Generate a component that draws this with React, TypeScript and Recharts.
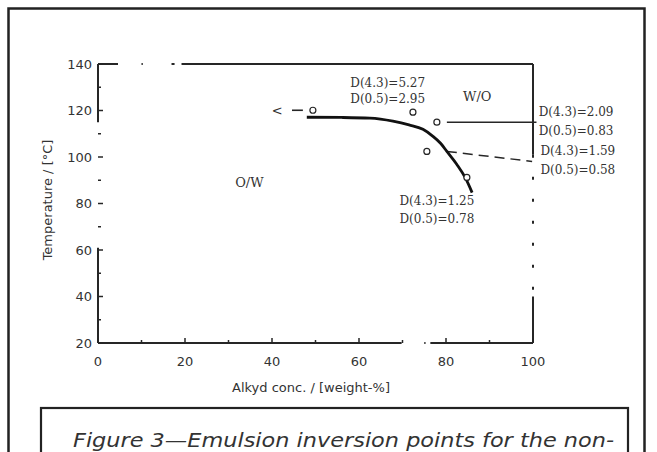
import React from 'react';
import { ComposedChart, Line, Scatter, XAxis, YAxis, ReferenceLine, ReferenceDot } from 'recharts';

// Inversion curve (alkyd conc. %, temperature °C)
const curveX = [48, 56, 62.5, 67.8, 71.5, 74.7, 77, 78.8, 80.2, 82.5, 84.4, 86];
const curveY = [117.1, 117.0, 116.7, 115.4, 113.8, 111.9, 108.9, 105.8, 102.4, 96.8, 91.2, 84.7];

// Measured inversion points
const pointX = [49.4, 72.4, 77.9, 75.6, 84.8];
const pointY = [120.1, 119.3, 115.0, 102.4, 91.2];

// Axis ticks
const xTicks = [0, 10, 20, 30, 40, 50, 60, 70, 80, 90, 100];
const xMajor = [0, 20, 40, 60, 80, 100];
const yTicks = [20, 30, 40, 50, 60, 70, 80, 90, 100, 110, 120, 130, 140];
const yMajor = [20, 40, 60, 80, 100, 120, 140];

// Annotation texts (anchored at data coordinates)
const noteText = [
  'D(4.3)=5.27', 'D(0.5)=2.95',
  'D(4.3)=2.09', 'D(0.5)=0.83',
  'D(4.3)=1.59', 'D(0.5)=0.58',
  'D(4.3)=1.25', 'D(0.5)=0.78',
];
const noteX = [58, 58, 101.3, 101.3, 101.7, 101.7, 69.3, 69.3];
const noteY = [131.8, 124.9, 119.3, 111.1, 102.4, 94.6, 80.9, 73.5];

const regionText = ['O/W', 'W/O', '<'];
const regionX = [34.8, 87.2, 41.2];
const regionY = [89.1, 126.2, 119.9];

const curveData = curveX.map((x, i) => ({ x, y: curveY[i] }));
const pointData = pointX.map((x, i) => ({ x, y: pointY[i] }));

const INK = '#262626';
const TICK_FONT = 'DejaVu Sans, sans-serif';
const NOTE_FONT = 'DejaVu Serif, serif';

const LeftTick = (props: any) => {
  const { x, y, payload } = props;
  const v = payload.value;
  const major = yMajor.includes(v);
  return (
    <g>
      <line x1={x} x2={x + (major ? 5 : 3)} y1={y} y2={y} stroke={INK} strokeWidth={1.5} />
      {major && (
        <text x={x - 6} y={y} textAnchor="end" dominantBaseline="central" fontFamily={TICK_FONT} fontSize={13} fill="#333">
          {v}
        </text>
      )}
    </g>
  );
};

const RightTick = (props: any) => {
  const { x, y, payload } = props;
  const major = yMajor.includes(payload.value);
  return <line x1={x} x2={x - (major ? 5 : 3)} y1={y} y2={y} stroke={INK} strokeWidth={1.5} />;
};

const BottomTick = (props: any) => {
  const { x, y, payload } = props;
  const v = payload.value;
  const major = xMajor.includes(v);
  return (
    <g>
      <line x1={x} x2={x} y1={y} y2={y - (major ? 5 : 3)} stroke={INK} strokeWidth={1.5} />
      {major && (
        <text x={x} y={y + 18} textAnchor="middle" dominantBaseline="central" fontFamily={TICK_FONT} fontSize={13} fill="#333">
          {v}
        </text>
      )}
    </g>
  );
};

const TopTick = (props: any) => {
  const { x, y, payload } = props;
  const major = xMajor.includes(payload.value);
  return <line x1={x} x2={x} y1={y} y2={y + (major ? 5 : 3)} stroke={INK} strokeWidth={1.5} />;
};

const frame = { stroke: INK, strokeWidth: 2, ifOverflow: 'visible' as const };

export default function App() {
  return (
    <div style={{ position: 'absolute', left: 0, top: 0, width: 657, height: 452, overflow: 'hidden', background: '#fff' }}>
      <ComposedChart width={657} height={452} margin={{ top: 64, right: 124, bottom: 79, left: 38 }}>
        <XAxis
          dataKey="x"
          type="number"
          domain={[0, 100]}
          ticks={xTicks}
          interval={0}
          height={30}
          tickSize={0}
          tickMargin={0}
          axisLine={false}
          tickLine={false}
          tick={<BottomTick />}
        />
        <XAxis
          xAxisId="t"
          orientation="top"
          type="number"
          domain={[0, 100]}
          ticks={xTicks}
          interval={0}
          height={0}
          tickSize={0}
          tickMargin={0}
          axisLine={false}
          tickLine={false}
          tick={<TopTick />}
        />
        <YAxis
          dataKey="y"
          type="number"
          domain={[20, 140]}
          ticks={yTicks}
          interval={0}
          width={60}
          tickSize={0}
          tickMargin={0}
          axisLine={false}
          tickLine={false}
          tick={<LeftTick />}
        />
        <YAxis
          yAxisId="r"
          orientation="right"
          type="number"
          domain={[20, 140]}
          ticks={yTicks}
          interval={0}
          width={0}
          tickSize={0}
          tickMargin={0}
          axisLine={false}
          tickLine={false}
          tick={<RightTick />}
        />

        {/* broken frame, as in the scanned original */}
        <ReferenceLine segment={[{ x: 0, y: 140 }, { x: 0, y: 115 }]} {...frame} />
        <ReferenceLine segment={[{ x: 0, y: 61 }, { x: 0, y: 20 }]} {...frame} />
        <ReferenceLine segment={[{ x: 0, y: 140 }, { x: 4.6, y: 140 }]} {...frame} />
        <ReferenceLine segment={[{ x: 10, y: 140 }, { x: 10.3, y: 140 }]} {...frame} />
        <ReferenceLine segment={[{ x: 16.9, y: 140 }, { x: 17.6, y: 140 }]} {...frame} />
        <ReferenceLine segment={[{ x: 19.2, y: 140 }, { x: 100, y: 140 }]} {...frame} />
        <ReferenceLine segment={[{ x: 100, y: 140 }, { x: 100, y: 101 }]} {...frame} />
        <ReferenceLine segment={[{ x: 100, y: 101 }, { x: 100, y: 40 }]} {...frame} strokeDasharray="3 19" />
        <ReferenceLine segment={[{ x: 100, y: 40 }, { x: 100, y: 20 }]} {...frame} />
        <ReferenceLine segment={[{ x: 0, y: 20 }, { x: 69.8, y: 20 }]} {...frame} />
        <ReferenceLine segment={[{ x: 75, y: 20 }, { x: 75.3, y: 20 }]} {...frame} />
        <ReferenceLine segment={[{ x: 76.4, y: 20 }, { x: 100, y: 20 }]} {...frame} />

        {/* leader lines */}
        <ReferenceLine segment={[{ x: 80.2, y: 115.0 }, { x: 100.8, y: 115.0 }]} stroke={INK} strokeWidth={1.5} ifOverflow="visible" />
        <ReferenceLine segment={[{ x: 80.2, y: 102.4 }, { x: 99.8, y: 98.1 }]} stroke={INK} strokeWidth={1.5} strokeDasharray="10 6" ifOverflow="visible" />
        <ReferenceLine segment={[{ x: 44.6, y: 120.1 }, { x: 47.1, y: 120.1 }]} stroke={INK} strokeWidth={1.6} ifOverflow="visible" />

        <Line
          data={curveData}
          dataKey="y"
          type="monotone"
          dot={false}
          stroke="#111"
          strokeWidth={2.8}
          isAnimationActive={false}
        />
        <Scatter
          data={pointData}
          dataKey="y"
          isAnimationActive={false}
          shape={(p: any) => <circle cx={p.cx} cy={p.cy} r={3} fill="#fff" stroke={INK} strokeWidth={1.2} />}
        />

        {noteText.map((t, i) => (
          <ReferenceDot
            key={'n' + i}
            x={noteX[i]}
            y={noteY[i]}
            r={0}
            ifOverflow="visible"
            shape={(p: any) => (
              <text x={p.cx} y={p.cy} dominantBaseline="central" fontFamily={NOTE_FONT} fontSize={12} fill="#333">
                {t}
              </text>
            )}
          />
        ))}
        {regionText.map((t, i) => (
          <ReferenceDot
            key={'r' + i}
            x={regionX[i]}
            y={regionY[i]}
            r={0}
            ifOverflow="visible"
            shape={(p: any) => (
              <text x={p.cx} y={p.cy} textAnchor="middle" dominantBaseline="central" fontFamily={NOTE_FONT} fontSize={13} fill="#333">
                {t}
              </text>
            )}
          />
        ))}
      </ComposedChart>

      <svg width={657} height={452} style={{ position: 'absolute', left: 0, top: 0, pointerEvents: 'none' }}>
        <rect x={8.5} y={8.5} width={636} height={470} fill="none" stroke="#222" strokeWidth={2.5} />
        <text
          transform="translate(47,200) rotate(-90)"
          textAnchor="middle"
          dominantBaseline="central"
          fontFamily={TICK_FONT}
          fontSize={13}
          fill="#333"
        >
          Temperature / [°C]
        </text>
        <text x={311} y={387} textAnchor="middle" dominantBaseline="central" fontFamily={TICK_FONT} fontSize={13} fill="#333">
          Alkyd conc. / [weight-%]
        </text>
        <rect x={41} y={408} width={587} height={70} fill="none" stroke="#222" strokeWidth={2.2} />
        <text
          x={73}
          y={447}
          textLength={541}
          lengthAdjust="spacingAndGlyphs"
          fontFamily="DejaVu Sans, sans-serif"
          fontStyle="italic"
          fontSize={20}
          fill="#333"
        >
          Figure 3—Emulsion inversion points for the non-
        </text>
      </svg>
    </div>
  );
}
